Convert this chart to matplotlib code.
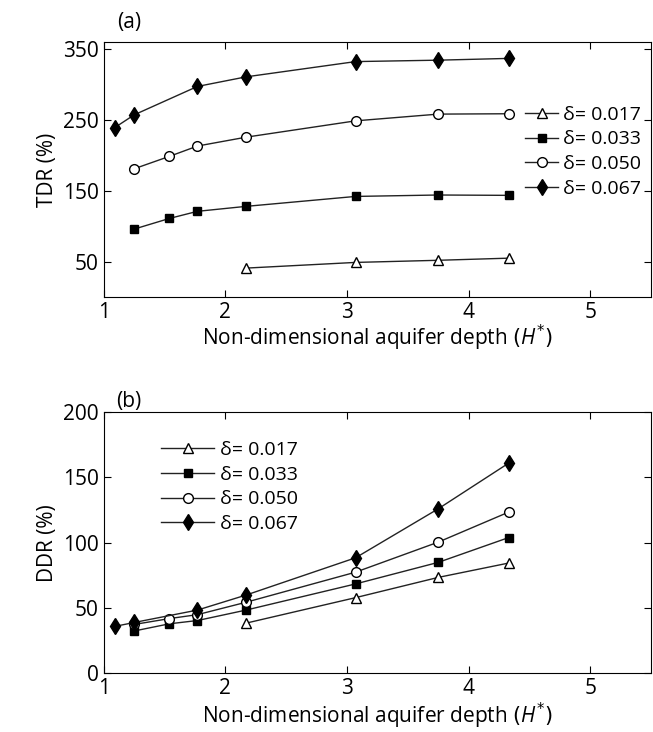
# -*- coding: utf-8 -*-
"""TDR and DDR versus non-dimensional aquifer depth for four delta values."""

import matplotlib.pyplot as plt

plt.rcParams["font.family"] = ["Open Sans", "DejaVu Sans"]
plt.rcParams["mathtext.fontset"] = "custom"
plt.rcParams["mathtext.it"] = "Open Sans:italic"

# depth values
h_017 = [2.17, 3.07, 3.75, 4.33]
h_033 = [1.25, 1.54, 1.77, 2.17, 3.07, 3.75, 4.33]
h_050 = [1.25, 1.54, 1.77, 2.17, 3.07, 3.75, 4.33]
h_067 = [1.09, 1.25, 1.77, 2.17, 3.07, 3.75, 4.33]

# panel (a) TDR (%)
tdr_017 = [41, 49, 52, 55]
tdr_033 = [96, 111, 121, 128, 142, 144, 143.5]
tdr_050 = [181, 198.5, 213, 225.5, 248.5, 258, 258.5]
tdr_067 = [239, 257, 297, 310.5, 332, 334, 336.5]

# panel (b) DDR (%)
ddr_017 = [38.5, 58, 73.5, 84.5]
ddr_033 = [32.5, 38, 40.5, 48.5, 68.5, 85, 104]
ddr_050 = [37.5, 42, 45, 54.5, 77.5, 100.5, 123.5]
ddr_067 = [36, 39, 48.5, 60, 88.5, 126, 161]

labels = ["δ= 0.017", "δ= 0.033", "δ= 0.050", "δ= 0.067"]
styles = [
    dict(marker="^", mfc="white", ms=7),
    dict(marker="s", mfc="black", ms=6),
    dict(marker="o", mfc="white", ms=7),
    dict(marker="d", mfc="black", ms=8),
]

fig = plt.figure(figsize=(6.53, 7.32), dpi=100)
ax_a = fig.add_axes([0.159, 0.594, 0.838, 0.349])
ax_b = fig.add_axes([0.159, 0.08, 0.838, 0.357])

xs = [h_017, h_033, h_050, h_067]
for x, y, lab, st in zip(xs, [tdr_017, tdr_033, tdr_050, tdr_067], labels, styles):
    ax_a.plot(x, y, color="#222222", lw=1, mec="black", label=lab, **st)
for x, y, lab, st in zip(xs, [ddr_017, ddr_033, ddr_050, ddr_067], labels, styles):
    ax_b.plot(x, y, color="#222222", lw=1, mec="black", label=lab, **st)

xlab = r"Non-dimensional aquifer depth $\mathit{(H^{*})}$"
for ax in (ax_a, ax_b):
    ax.set_xlim(1, 5.5)
    ax.set_xticks([1, 2, 3, 4, 5])
    ax.tick_params(direction="in", top=True, right=True, labelsize=15, length=5)

ax_a.set_xlabel(xlab, fontsize=15, labelpad=0)
ax_b.set_xlabel(xlab, fontsize=15, labelpad=1)

ax_a.set_ylim(0, 360)
ax_a.set_yticks([50, 150, 250, 350])
ax_a.set_ylabel("TDR (%)", fontsize=15)
ax_b.set_ylim(0, 200)
ax_b.set_yticks([0, 50, 100, 150, 200])
ax_b.set_ylabel("DDR (%)", fontsize=15)

ax_a.text(0.025, 1.055, "(a)", transform=ax_a.transAxes, fontsize=15)
ax_b.text(0.022, 1.02, "(b)", transform=ax_b.transAxes, fontsize=15)

leg_a = ax_a.legend(loc="upper left", bbox_to_anchor=(0.77, 0.75), frameon=True,
                    fontsize=14, handlelength=1.7, handletextpad=0.25, labelspacing=0.35,
                    borderpad=0, borderaxespad=0)
leg_a.get_frame().set_edgecolor("none")
ax_b.legend(loc="upper left", bbox_to_anchor=(0.105, 0.89), frameon=False,
            fontsize=14, handlelength=2.7, handletextpad=0.3, labelspacing=0.35,
            borderpad=0, borderaxespad=0)

plt.savefig("out.png", dpi=100)
plt.close()
